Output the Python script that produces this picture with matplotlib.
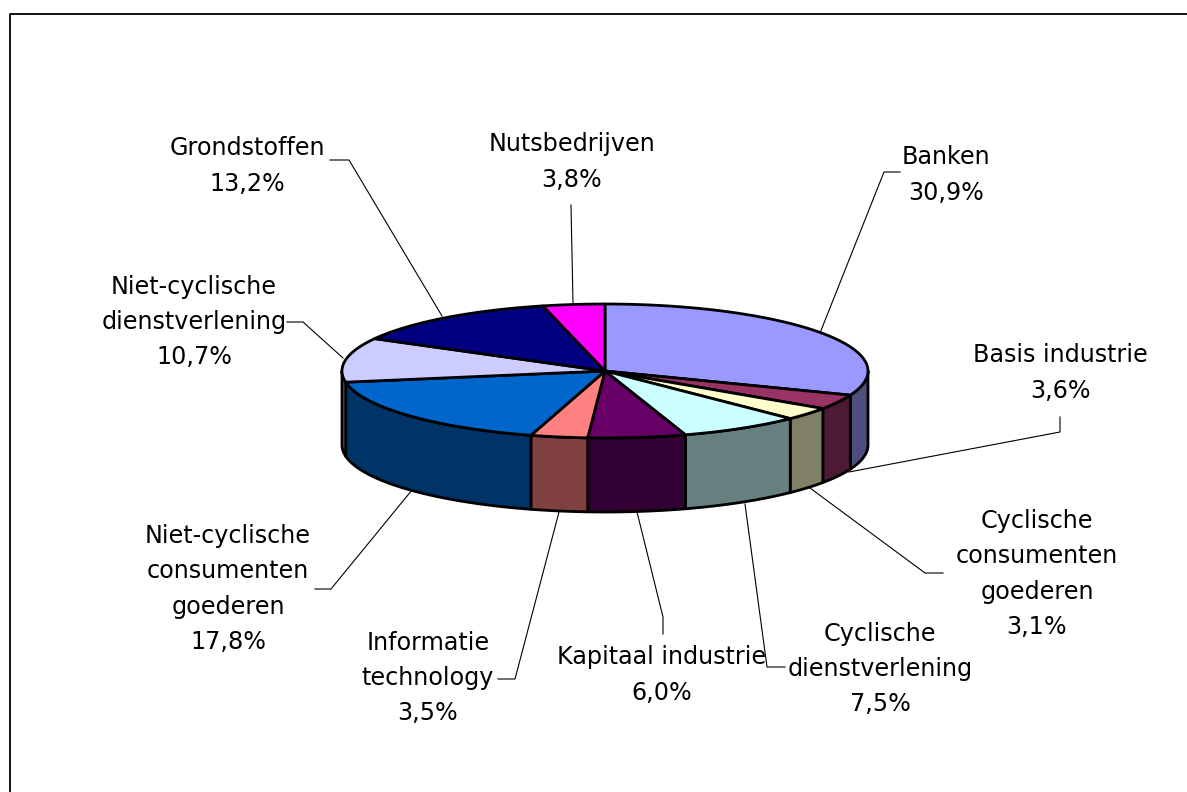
import numpy as np
import matplotlib
matplotlib.use("Agg")
import matplotlib.pyplot as plt
from matplotlib.patches import Polygon

# Data
categories = ["Banken", "Basis industrie", "Cyclische\nconsumenten\ngoederen",
              "Cyclische\ndienstverlening", "Kapitaal industrie", "Informatie\ntechnology",
              "Niet-cyclische\nconsumenten\ngoederen", "Niet-cyclische\ndienstverlening",
              "Grondstoffen", "Nutsbedrijven"]
values = [30.9, 3.6, 3.1, 7.5, 6.0, 3.5, 17.8, 10.7, 13.2, 3.8]
top_colors = ["#9999FF", "#993366", "#FFFFCC", "#CCFFFF", "#660066",
              "#FF8080", "#0066CC", "#CCCCFF", "#000080", "#FF00FF"]
side_colors = ["#4D4D80", "#4D1A33", "#808066", "#668080", "#330033",
               "#804040", "#003366", "#666680", "#000040", "#800080"]

# Layout in pixels
cx, cy, rx, ry, depth = 605, 371, 263, 67, 74
label_pos = [(946, 175), (1060, 373), (1037, 574), (880, 669), (662, 675),
             (428, 678), (228, 589), (194, 322), (247, 166), (572, 162)]
leaders = [
    [(820, 333), (884, 172), (900, 172)],
    [(849, 472), (1060, 432), (1060, 417)],
    [(810, 488), (925, 573), (943, 573)],
    [(745, 504), (767, 667), (785, 667)],
    [(637, 512), (663, 617), (663, 634)],
    [(559, 512), (515, 679), (498, 679)],
    [(412, 490), (331, 589), (315, 589)],
    [(343, 358), (303, 322), (287, 322)],
    [(442, 316), (349, 160), (330, 160)],
    [(573, 303), (571, 205)],
]


def rim(a, b, dy=0):
    t = np.radians(np.linspace(a, b, 100))
    return np.column_stack([cx + rx * np.sin(t), cy - ry * np.cos(t) + dy])


fig = plt.figure(figsize=(11.87, 7.92), dpi=100)
ax = fig.add_axes([0, 0, 1, 1])
ax.set_xlim(0, 1187)
ax.set_ylim(792, 0)
ax.axis("off")

# Chart frame, only left and top are inside the picture
ax.plot([10, 10, 1187], [792, 14, 14], color="black", lw=1.3, zorder=1)

for path in leaders:
    xs, ys = zip(*path)
    ax.plot(xs, ys, color="black", lw=0.8, zorder=2)

edges = np.cumsum([0] + values) / sum(values) * 360

# Side walls, only the front half of the pie shows
for i in range(len(values)):
    a, b = max(edges[i], 90), min(edges[i + 1], 270)
    if a < b:
        pts = np.vstack([rim(a, b), rim(a, b, depth)[::-1]])
        ax.add_patch(Polygon(pts, closed=True, fc=side_colors[i], ec="black", lw=2.0,
                             joinstyle="round", zorder=3))

# Top of the pie
for i in range(len(values)):
    pts = np.vstack([[(cx, cy)], rim(edges[i], edges[i + 1])])
    ax.add_patch(Polygon(pts, closed=True, fc=top_colors[i], ec="black", lw=2.0,
                         joinstyle="round", zorder=4))

for name, val, (x, y) in zip(categories, values, label_pos):
    label = name + "\n" + f"{val:.1f}".replace(".", ",") + "%"
    ax.text(x, y, label, ha="center", va="center", fontsize=17.2, color="black",
            family="DejaVu Sans", linespacing=1.6, zorder=5)

fig.savefig("out.png", dpi=100, facecolor="white")
